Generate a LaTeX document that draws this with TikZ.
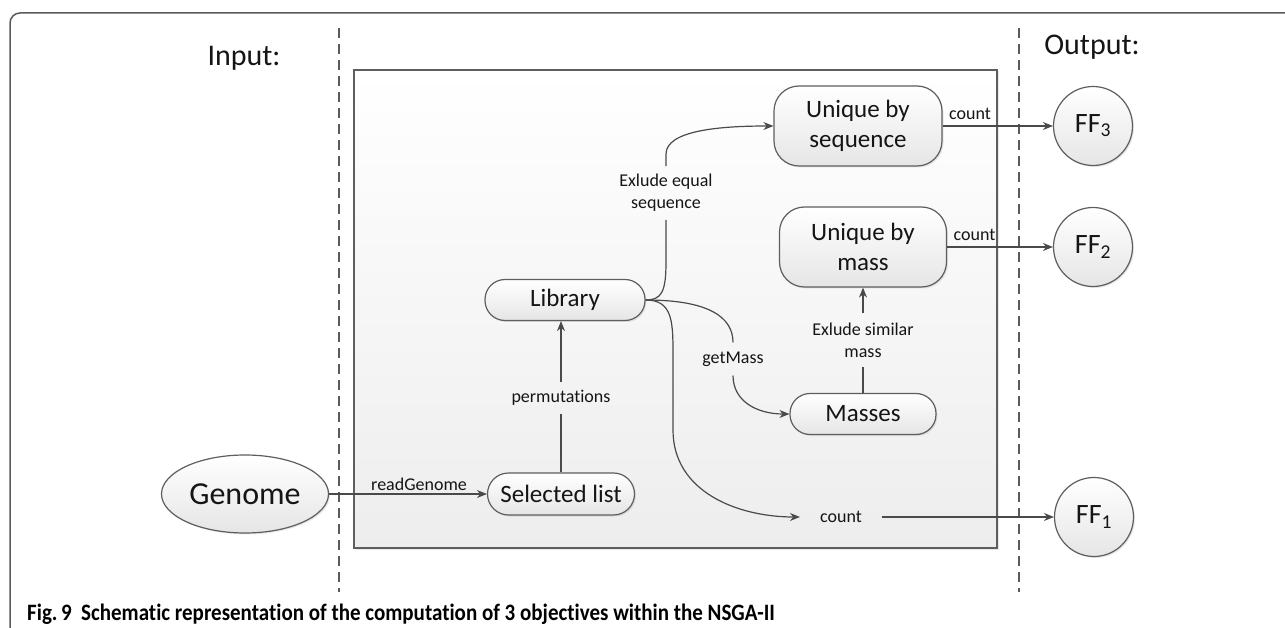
\documentclass[tikz,border=0pt]{standalone}
\usepackage{fontspec}
\setmainfont[Ligatures=NoCommon]{Carlito}
\usetikzlibrary{arrows.meta,shapes.geometric,shadows}
\definecolor{linec}{HTML}{4A4A4A}
\definecolor{borderc}{HTML}{5E5E5E}
\definecolor{textc}{HTML}{151515}
\definecolor{framec}{HTML}{5A5A5A}
\tikzset{
  shadowed/.style={drop shadow={opacity=0.18, shadow xshift=1.5pt, shadow yshift=-1.5pt}},
  boxfill/.style={top color=white, bottom color=black!10, draw=borderc, line width=1.2pt, shadowed},
  rbox/.style={boxfill, rectangle, rounded corners=#1, inner sep=0pt, text=textc, align=center,
    font=\fontsize{25}{30}\selectfont},
  ffnode/.style={boxfill, circle, minimum size=79pt, inner sep=0pt, text=textc,
    font=\fontsize{28}{30}\selectfont},
  lbl/.style={inner xsep=3pt, inner ysep=8pt, text=textc, align=center, font=\fontsize{18}{22}\selectfont},
  lbltop/.style={inner sep=6pt, text=textc, font=\fontsize{18}{22}\selectfont},
  ln/.style={draw=linec, line width=1.2pt},
  arr/.style={ln, -{Stealth[length=10pt, width=8pt]}},
  hdr/.style={text=textc, font=\fontsize{30}{34}\selectfont, inner sep=0pt},
  sep/.style={draw=framec, line width=1.3pt, dash pattern=on 10pt off 6pt},
}
\begin{document}
\begin{tikzpicture}[x=1pt, y=-1pt]
\useasboundingbox (0,0) rectangle (1285,628);
% outer frame
\draw[framec, line width=1.5pt, rounded corners=10pt] (10,628) -- (10,13) -- (1285,13);
% separators
\draw[sep] (339,28) -- (339,592);
\draw[sep] (1019,28) -- (1019,592);
% inner box
\path[top color=white, bottom color=black!7, draw=borderc, line width=1.3pt, shadowed] (354,70) rectangle (997,548);
% headers
\node[hdr, anchor=base] (inp) at (244,66) {Input:};
\node[hdr, anchor=base] (outp) at (1092,55) {Output:};
% nodes
\node[boxfill, ellipse, minimum width=167pt, minimum height=78pt, inner sep=0pt, text=textc,
  font=\fontsize{32}{34}\selectfont] (genome) at (245,494) {Genome};
\node[rbox=21pt, minimum width=147pt, minimum height=42pt] (sel) at (561,494) {Selected list};
\node[rbox=20pt, minimum width=160pt, minimum height=41pt] (lib) at (565,300) {Library};
\node[rbox=25pt, minimum width=168pt, minimum height=80pt] (useq) at (858,126) {Unique by\\sequence};
\node[rbox=25pt, minimum width=167pt, minimum height=80pt] (umass) at (863,247) {Unique by\\mass};
\node[rbox=20pt, minimum width=146pt, minimum height=41pt] (masses) at (863,414) {Masses};
\node[ffnode] (ff3) at (1093,126) {FF\textsubscript{3}};
\node[ffnode] (ff2) at (1093,247) {FF\textsubscript{2}};
\node[ffnode] (ff1) at (1094,517) {FF\textsubscript{1}};
% label nodes
\node[lbl] (perm) at (561,398) {permutations};
\node[lbl, inner ysep=8pt] (exe) at (666,193) {Exlude equal\\sequence};
\node[lbl, inner ysep=9pt] (gm) at (733,359) {getMass};
\node[lbl, inner ysep=9pt] (exs) at (863,340) {Exlude similar\\mass};
\node[lbl, inner xsep=20pt] (cnt) at (841,517) {count};
% connectors
\draw[arr] (genome) -- node[lbl, inner ysep=3pt, above, pos=0.57] (rg) {readGenome} (sel);
\draw[ln] (sel.north -| perm) -- (perm.south);
\draw[arr] (perm.north) -- (perm.north |- lib.south);
\draw[ln] (lib.east) .. controls +(16,0) and +(0,30) .. (666,262) -- (exe.south);
\draw[arr] (exe.north) -- ++(0,-12) .. controls +(0,-24) and +(-52,0) .. (useq.west);
\draw[ln] (lib.east) .. controls +(62,0) and +(0,-26) .. (gm.north);
\draw[arr] (gm.south) .. controls +(0,26) and +(-32,0) .. (masses.west);
\draw[arr] (lib.east) .. controls +(26,0) and +(0,-32) .. (673,352) -- (673,430)
  .. controls +(0,62) and +(-62,0) .. (cnt.west);
\draw[arr] (cnt) -- (ff1);
\draw[ln] (masses) -- (exs);
\draw[arr] (exs) -- (umass);
\draw[arr] (useq.east) -- node[lbltop, anchor=south west, pos=0] (c3) {count} (ff3);
\draw[arr] (umass.east) -- node[lbltop, anchor=south west, pos=0] (c2) {count} (ff2);
% caption
\node[anchor=base west, inner sep=0pt, text=black, font=\fontsize{21}{24}\selectfont\bfseries] (cap) at (27,620)
  {\scalebox{1}[1.12]{Fig.\,9\hspace{0.45em}Schematic representation of the computation of 3 objectives within the NSGA-II}};
\end{tikzpicture}
\end{document}
